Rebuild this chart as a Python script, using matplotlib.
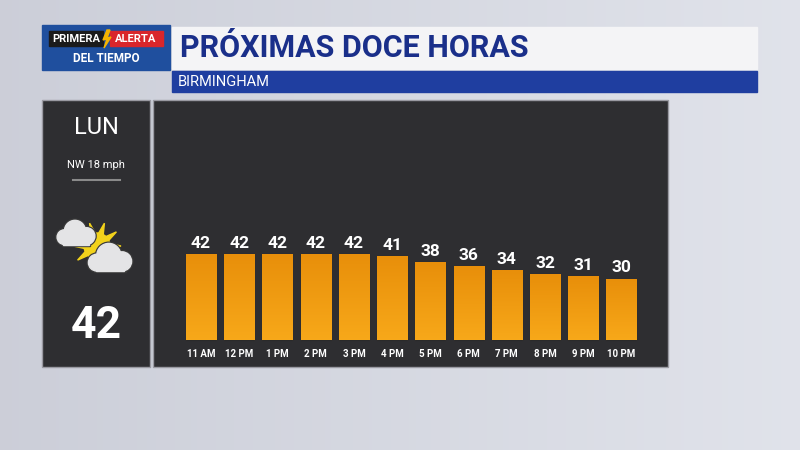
import numpy as np
import matplotlib
matplotlib.use('Agg')
import matplotlib.pyplot as plt
from matplotlib.patches import Rectangle, Circle, Polygon

# data
hours = ['11 AM', '12 PM', '1 PM', '2 PM', '3 PM', '4 PM', '5 PM', '6 PM', '7 PM', '8 PM', '9 PM', '10 PM']
temps = [42, 42, 42, 42, 42, 41, 38, 36, 34, 32, 31, 30]
day_name = 'LUN'
wind = 'NW 18 mph'
current_temp = 42

plt.rcParams['font.family'] = ['Roboto', 'DejaVu Sans']

W, H = 800, 450
fig = plt.figure(figsize=(8, 4.5), dpi=100)
bg = fig.add_axes([0, 0, 1, 1])
bg.set_xlim(0, W)
bg.set_ylim(H, 0)
bg.axis('off')
# light grey background gradient
grad = np.linspace(0, 1, 256).reshape(1, -1)
bg.imshow(np.dstack([0.80 + 0.08 * grad, 0.81 + 0.08 * grad, 0.85 + 0.07 * grad])[0:1].repeat(2, 0),
          extent=[0, W, H, 0], aspect='auto')

# logo
bg.add_patch(Rectangle((42, 25), 128, 45, color='#1f4f9e'))
bg.add_patch(Rectangle((49, 31), 54, 15, color='#1b1b1b'))
bg.add_patch(Rectangle((110, 31), 53, 15, color='#d9262b'))
bg.text(76, 39, 'PRIMERA', color='white', fontsize=8, weight='bold', ha='center', va='center')
bg.text(136, 39, 'ALERTA', color='white', fontsize=8, weight='bold', ha='center', va='center')
bg.add_patch(Polygon([[107, 30], [103, 40], [107, 39], [104, 48], [111, 37], [107, 38], [110, 30]], color='#f5b400'))
bg.text(106, 58, 'DEL TIEMPO', color='white', fontsize=8.5, weight='bold', ha='center', va='center')

# title bars
bg.add_patch(Rectangle((172, 27), 585, 42, color='#f4f4f6'))
bg.text(180, 48, 'PRÓXIMAS DOCE HORAS', color='#1a2f8a', fontsize=22, weight='bold', va='center')
bg.add_patch(Rectangle((172, 71), 585, 21, color='#1f3ea0'))
bg.text(178, 82, 'BIRMINGHAM', color='white', fontsize=10.5, va='center')

# panels
bg.add_patch(Rectangle((42, 100), 108, 267, color='#2e2e31', ec='#9a9aa2', lw=1))
bg.add_patch(Rectangle((153, 100), 515, 267, color='#2e2e31', ec='#9a9aa2', lw=1))

bg.text(96, 128, day_name, color='white', fontsize=17, ha='center', va='center')
bg.text(96, 165, wind, color='white', fontsize=8, ha='center', va='center')
bg.plot([73, 120], [180, 180], color='#8a8a8a', lw=1.5)
bg.text(96, 326, str(current_temp), color='white', fontsize=32, weight='bold', ha='center', va='center')

# weather icon
x0, y0 = 97, 246
for a in np.linspace(0, 2 * np.pi, 11)[:-1]:
    bg.add_patch(Polygon([[x0 + 12 * np.cos(a - 0.22), y0 + 12 * np.sin(a - 0.22)],
                          [x0 + 24 * np.cos(a), y0 + 24 * np.sin(a)],
                          [x0 + 12 * np.cos(a + 0.22), y0 + 12 * np.sin(a + 0.22)]], color='#f2d21b'))
bg.add_patch(Circle((x0, y0), 13, color='#f2d21b'))

def cloud(cx, cy, s, z):
    parts = [(-11, 3, 7), (-1, -3, 10), (10, 2, 8)]
    for dx, dy, r in parts:
        bg.add_patch(Circle((cx + dx * s, cy + dy * s), r * s + 1.2, color='#3a3a3a', zorder=z))
    bg.add_patch(Rectangle((cx - 12 * s - 1.2, cy + 1 * s), 24 * s + 2.4, 9 * s + 1.2, color='#3a3a3a', zorder=z))
    for dx, dy, r in parts:
        bg.add_patch(Circle((cx + dx * s, cy + dy * s), r * s, color='#e4e4e6', zorder=z + 1))
    bg.add_patch(Rectangle((cx - 12 * s, cy + 1 * s), 24 * s, 9 * s, color='#e4e4e6', zorder=z + 1))

cloud(76, 234, 1.05, 3)
cloud(110, 259, 1.2, 5)

# bars
ax = fig.add_axes([153 / W, (H - 367) / H, 515 / W, 267 / H])
ax.set_xlim(-48 / 38.2, 12.22)
ax.set_ylim(-27 / 2.05, 240 / 2.05)
ax.axis('off')
x = np.arange(len(temps))
bars = ax.bar(x, temps, width=30 / 38.2, color='#f0960e', ec='#2a2a2a', lw=0.8)
g = np.linspace(0, 1, 100).reshape(-1, 1)
cols = np.dstack([0.91 + 0.06 * g, 0.56 + 0.10 * g, 0.04 + 0.06 * g])
for b in bars:
    im = ax.imshow(cols, extent=[b.get_x(), b.get_x() + b.get_width(), 0, b.get_height()],
                   aspect='auto', origin='upper', zorder=2)
    im.set_clip_path(b)
for xi, t, h in zip(x, temps, hours):
    ax.text(xi, t + 1.5, str(t), color='white', fontsize=12.5, weight='bold', ha='center', va='bottom')
    ax.text(xi, -7, h, color='white', fontsize=7, weight='bold', ha='center', va='center')

fig.savefig('out.png', dpi=100)
